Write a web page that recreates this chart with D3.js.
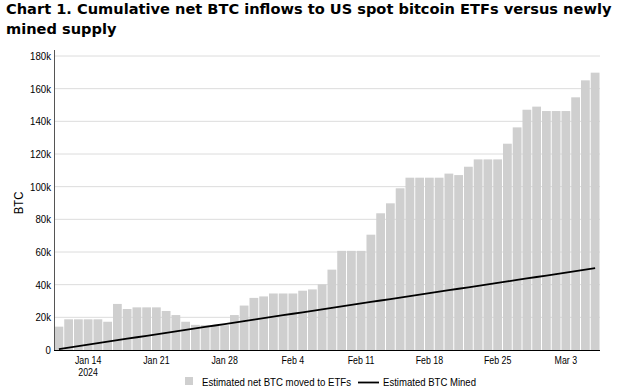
<!DOCTYPE html>
<html>
<head>
<meta charset="utf-8">
<script src="https://cdn.jsdelivr.net/npm/d3@7"></script>
<style>
  body { margin: 0; background: #fff; }
  svg { display: block; }
</style>
</head>
<body>
<div id="chart"></div>
<script>
// Cumulative net BTC into US spot ETFs vs newly mined BTC

// daily dates, Jan 11 - Mar 6 2024
var days = [
  "2024-01-11","2024-01-12","2024-01-13","2024-01-14","2024-01-15","2024-01-16","2024-01-17",
  "2024-01-18","2024-01-19","2024-01-20","2024-01-21","2024-01-22","2024-01-23","2024-01-24",
  "2024-01-25","2024-01-26","2024-01-27","2024-01-28","2024-01-29","2024-01-30","2024-01-31",
  "2024-02-01","2024-02-02","2024-02-03","2024-02-04","2024-02-05","2024-02-06","2024-02-07",
  "2024-02-08","2024-02-09","2024-02-10","2024-02-11","2024-02-12","2024-02-13","2024-02-14",
  "2024-02-15","2024-02-16","2024-02-17","2024-02-18","2024-02-19","2024-02-20","2024-02-21",
  "2024-02-22","2024-02-23","2024-02-24","2024-02-25","2024-02-26","2024-02-27","2024-02-28",
  "2024-02-29","2024-03-01","2024-03-02","2024-03-03","2024-03-04","2024-03-05","2024-03-06"
];

// estimated net BTC moved to ETFs (cumulative)
var etfBtc = [
  14300, 18800, 18800, 18800, 18800, 17300, 28200,
  25100, 26100, 26100, 26100, 23900, 21400, 17300,
  15400, 15200, 15200, 15200, 21400, 27200, 31900,
  32800, 34600, 34600, 34600, 36300, 37100, 40200,
  49200, 60700, 60700, 60700, 70600, 83700, 89800,
  99000, 105500, 105500, 105500, 105500, 108000, 107100,
  112200, 116700, 116700, 116700, 126300, 136300, 147100,
  149000, 146300, 146300, 146300, 154700, 165100, 169800
];

// estimated BTC mined (cumulative)
var minedBtc = [
  600, 1500, 2400, 3300, 4200, 5100, 6000,
  6900, 7800, 8700, 9600, 10500, 11400, 12300,
  13200, 14100, 15000, 15900, 16800, 17700, 18600,
  19500, 20400, 21300, 22200, 23100, 24000, 24900,
  25800, 26700, 27600, 28500, 29400, 30300, 31200,
  32100, 33000, 33900, 34800, 35700, 36600, 37500,
  38400, 39300, 40200, 41100, 42000, 42900, 43800,
  44700, 45600, 46500, 47400, 48300, 49200, 50100
];

var xTicks = ["2024-01-14","2024-01-21","2024-01-28","2024-02-04","2024-02-11","2024-02-18","2024-02-25","2024-03-03"];
var yTicks = [0, 20000, 40000, 60000, 80000, 100000, 120000, 140000, 160000, 180000];

var titleLines = ["Chart 1. Cumulative net BTC inflows to US spot bitcoin ETFs versus newly", "mined supply"];
var legendNames = ["Estimated net BTC moved to ETFs", "Estimated BTC Mined"];

var sans = "'Liberation Sans', Arial, sans-serif";
var narrow = 0.84; // reference labels use a condensed face

var svgWidth = 623, svgHeight = 392;
var margin = {top: 56, right: 23, bottom: 42, left: 54};
var width = svgWidth - margin.left - margin.right;
var height = svgHeight - margin.top - margin.bottom;

var svg = d3.select("#chart").append("svg")
    .attr("width", svgWidth)
    .attr("height", svgHeight);

// squeeze a text node horizontally
function condense(node, ratio) {
  var len = node.getComputedTextLength();
  d3.select(node)
    .attr("textLength", len * ratio)
    .attr("lengthAdjust", "spacingAndGlyphs");
}

// title
var title = svg.append("g");
titleLines.forEach(function(t, i) {
  title.append("text")
    .attr("x", 6)
    .attr("y", 14 + i * 19.5)
    .attr("font-family", "'DejaVu Sans', Verdana, sans-serif")
    .attr("font-weight", "bold")
    .attr("font-size", "14px")
    .attr("fill", "#000")
    .text(t);
});
// fit first line to the reference width
var first = title.select("text").node();
var fs = 14 * 606 / first.getComputedTextLength();
title.selectAll("text").attr("font-size", fs + "px");

var chartGroup = svg.append("g")
    .attr("transform", "translate(" + margin.left + "," + margin.top + ")");

var xScale = d3.scaleBand()
    .domain(days)
    .range([0, width])
    .paddingInner(0.1)
    .paddingOuter(0.05);

var yScale = d3.scaleLinear()
    .domain([0, 180000])
    .range([height, 0]);

// gridlines
chartGroup.append("g")
  .selectAll("line")
  .data(yTicks.slice(1))
  .enter()
  .append("line")
    .attr("x1", 0)
    .attr("x2", width)
    .attr("y1", d => yScale(d))
    .attr("y2", d => yScale(d))
    .attr("stroke", "#dcdcdc")
    .attr("stroke-width", 1);

// bars
chartGroup.append("g")
  .selectAll("rect")
  .data(days)
  .enter()
  .append("rect")
    .attr("x", d => xScale(d))
    .attr("width", xScale.bandwidth())
    .attr("y", (d, i) => yScale(etfBtc[i]))
    .attr("height", (d, i) => height - yScale(etfBtc[i]))
    .attr("fill", "#cfcfcf");

// mined line
var line = d3.line()
    .x((d, i) => xScale(days[i]) + xScale.bandwidth() / 2)
    .y(d => yScale(d));

chartGroup.append("path")
    .datum(minedBtc)
    .attr("d", line)
    .attr("fill", "none")
    .attr("stroke", "#000")
    .attr("stroke-width", 1.8);

// y axis
var leftAxis = d3.axisLeft(yScale)
    .tickValues(yTicks)
    .tickSize(0)
    .tickPadding(3)
    .tickFormat(d3.format("~s"));

var yAxisG = chartGroup.append("g").call(leftAxis);
yAxisG.select(".domain").remove();
yAxisG.attr("font-family", sans);
yAxisG.selectAll("text")
    .attr("font-size", "10.5px")
    .attr("fill", "#000")
    .each(function() { condense(this, 0.92); });

chartGroup.append("line")
    .attr("x1", 0.5).attr("x2", 0.5)
    .attr("y1", -6).attr("y2", height)
    .attr("stroke", "#555")
    .attr("stroke-width", 1);

// x axis
var fmt = d3.timeFormat("%b %-d");
var parse = d3.timeParse("%Y-%m-%d");
var bottomAxis = d3.axisBottom(xScale)
    .tickValues(xTicks)
    .tickSize(0)
    .tickPadding(7)
    .tickFormat(d => fmt(parse(d)));

var xAxisG = chartGroup.append("g")
    .attr("transform", "translate(0," + height + ")")
    .call(bottomAxis);
xAxisG.select(".domain").remove();
xAxisG.attr("font-family", sans);
xAxisG.selectAll("text")
    .attr("font-size", "10.5px")
    .attr("fill", "#000")
    .each(function() { condense(this, narrow); });

chartGroup.append("line")
    .attr("x1", 0).attr("x2", width)
    .attr("y1", height + 0.5).attr("y2", height + 0.5)
    .attr("stroke", "#000")
    .attr("stroke-width", 1.2);

// year under first tick
chartGroup.append("text")
    .attr("x", xScale(xTicks[0]) + xScale.bandwidth() / 2)
    .attr("y", height + 26)
    .attr("text-anchor", "middle")
    .attr("font-family", sans)
    .attr("font-size", "10.5px")
    .text("2024")
    .each(function() { condense(this, narrow); });

// y label
svg.append("text")
    .attr("transform", "translate(23," + (margin.top + height / 2) + ") rotate(-90)")
    .attr("text-anchor", "middle")
    .attr("font-family", sans)
    .attr("font-size", "12.5px")
    .text("BTC")
    .each(function() { condense(this, 0.9); });

// legend
var legend = svg.append("g")
    .attr("font-family", sans)
    .attr("font-size", "11px");

legend.append("rect")
    .attr("x", 185).attr("y", 377)
    .attr("width", 8).attr("height", 8)
    .attr("fill", "#cfcfcf");
legend.append("text")
    .attr("x", 202).attr("y", 386)
    .attr("textLength", 149)
    .attr("lengthAdjust", "spacingAndGlyphs")
    .text(legendNames[0]);
legend.append("line")
    .attr("x1", 358).attr("x2", 379)
    .attr("y1", 382.5).attr("y2", 382.5)
    .attr("stroke", "#000").attr("stroke-width", 1.8);
legend.append("text")
    .attr("x", 383).attr("y", 386)
    .attr("textLength", 93)
    .attr("lengthAdjust", "spacingAndGlyphs")
    .text(legendNames[1]);
</script>
</body>
</html>
